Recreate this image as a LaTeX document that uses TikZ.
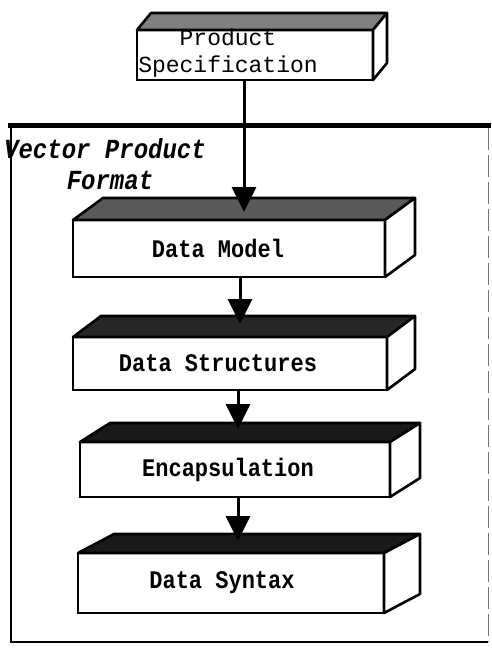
\documentclass[tikz,border=0pt]{standalone}
\usepackage{fontspec}
\usetikzlibrary{arrows.meta,calc}
\newfontfamily\monofnt{Liberation Mono}
\newcommand\tallt[1]{\scalebox{1}[1.15]{#1}}
\begin{document}
\begin{tikzpicture}[x=1pt,y=-1pt,
  front/.style={draw,line width=2.6pt,fill=white,inner sep=0pt,outer sep=0pt,anchor=north west},
  faceline/.style={line width=2.6pt,line join=round},
  lbl/.style={font=\monofnt\bfseries\fontsize{22}{26}\selectfont,inner sep=0pt},
  conn/.style={line width=3pt,-{Triangle[width=24pt,length=25pt]}}]
\useasboundingbox (0,0) rectangle (491,651);
% outer frame: Vector Product Format
\node[anchor=west,inner sep=0pt,font=\monofnt\bfseries\itshape\fontsize{24}{28}\selectfont] (vpf1) at (4,149) {\tallt{Vector Product}};
\node[inner sep=0pt,font=\monofnt\bfseries\itshape\fontsize{24}{28}\selectfont] (vpf2) at (110,180) {\tallt{Format}};
\draw[line width=2.2pt] (11,125) -- (11,642) -- (488,642);
\draw[line width=5pt] (8,125) -- (491,125);
\draw[black!55,line width=0.8pt,dash pattern=on 22pt off 5pt] (488,128) -- (488,642);
% Product Specification
\node[front,minimum width=236pt,minimum height=50pt] (ps) at (137,30) {};
\filldraw[faceline,fill=black!50] (ps.north west) -- ++(14,-17) -- ([shift={(14,-17)}]ps.north east) -- (ps.north east) -- cycle;
\filldraw[faceline,fill=white] (ps.north east) -- ++(14,-17) -- ([shift={(14,-17)}]ps.south east) -- (ps.south east) -- cycle;
\node[font=\monofnt\fontsize{23}{27}\selectfont,align=center,inner sep=0pt] (pst) at (228,53) {Product\\Specification};
% Data Model
\node[front,minimum width=312pt,minimum height=57pt] (dm) at (73,220) {};
\filldraw[faceline,fill=black!65] (dm.north west) -- ++(30,-22) -- ([shift={(30,-22)}]dm.north east) -- (dm.north east) -- cycle;
\filldraw[faceline,fill=white] (dm.north east) -- ++(30,-22) -- ([shift={(30,-22)}]dm.south east) -- (dm.south east) -- cycle;
\node[lbl] (dmt) at ([xshift=-11pt]dm.center) {\tallt{Data Model}};
% Data Structures
\node[front,minimum width=314pt,minimum height=53pt] (ds) at (73,337) {};
\filldraw[faceline,fill=black!85] (ds.north west) -- ++(28,-21) -- ([shift={(28,-21)}]ds.north east) -- (ds.north east) -- cycle;
\filldraw[faceline,fill=white] (ds.north east) -- ++(28,-21) -- ([shift={(28,-21)}]ds.south east) -- (ds.south east) -- cycle;
\node[lbl] (dst) at ([xshift=-12pt]ds.center) {\tallt{Data Structures}};
% Encapsulation
\node[front,minimum width=310pt,minimum height=55pt] (en) at (80,442) {};
\filldraw[faceline,fill=black!90] (en.north west) -- ++(30,-19) -- ([shift={(30,-19)}]en.north east) -- (en.north east) -- cycle;
\filldraw[faceline,fill=white] (en.north east) -- ++(30,-19) -- ([shift={(30,-19)}]en.south east) -- (en.south east) -- cycle;
\node[lbl] (ent) at ([xshift=-7pt]en.center) {\tallt{Encapsulation}};
% Data Syntax
\node[front,minimum width=306pt,minimum height=60pt] (dsy) at (78,553) {};
\filldraw[faceline,fill=black!90] (dsy.north west) -- ++(36,-19) -- ([shift={(36,-19)}]dsy.north east) -- (dsy.north east) -- cycle;
\filldraw[faceline,fill=white] (dsy.north east) -- ++(36,-19) -- ([shift={(36,-19)}]dsy.south east) -- (dsy.south east) -- cycle;
\node[lbl] (dsyt) at ([xshift=-9pt]dsy.center) {\tallt{Data Syntax}};
% connectors
\coordinate (dmtip) at (244,212);
\coordinate (dstip) at (240,324);
\coordinate (entip) at (238,429);
\coordinate (dsytip) at (238,541);
\draw[conn] (ps.south -| dmtip) -- (dmtip);
\draw[conn] (dm.south -| dstip) -- (dstip);
\draw[conn] (ds.south -| entip) -- (entip);
\draw[conn] (en.south -| dsytip) -- (dsytip);
\end{tikzpicture}
\end{document}
